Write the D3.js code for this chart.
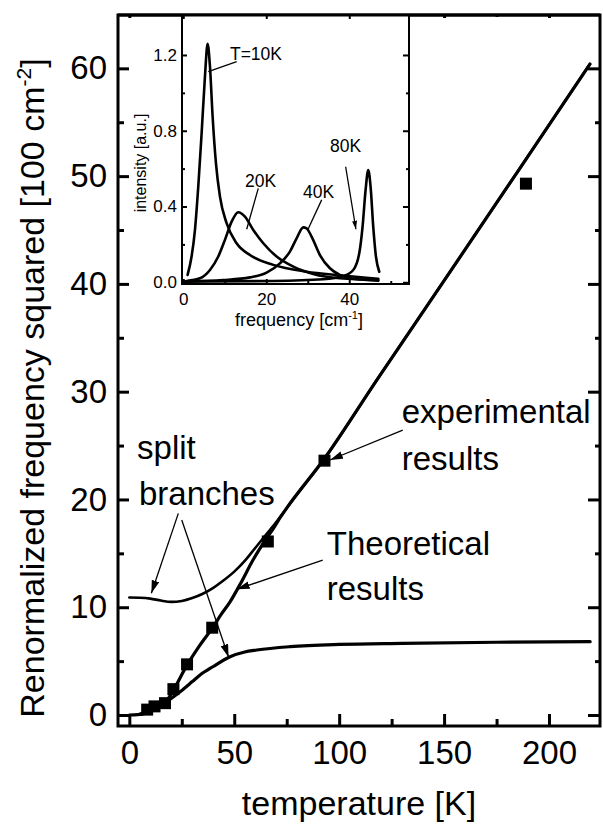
<!DOCTYPE html>
<html>
<head>
<meta charset="utf-8">
<script src="https://cdnjs.cloudflare.com/ajax/libs/d3/7.8.5/d3.min.js"></script>
<style>
  body { margin: 0; background: #fff; }
  svg { display: block; font-family: "Liberation Sans", Arial, Helvetica, sans-serif; }
  .axis path.domain { display: none; }
  .axis line { stroke: #000; stroke-width: 3; }
  .axis text { fill: #000; }
  .inset .axis line { stroke-width: 2; }
  .curve { fill: none; stroke: #000; stroke-linejoin: round; stroke-linecap: round; }
  .pointer { fill: none; stroke: #000; stroke-width: 1.3; }
</style>
</head>
<body>
<div id="chart"></div>
<script>
// main panel ticks
let xTicks = [0, 50, 100, 150, 200],
  xMinor = [25, 75, 125, 175],
  yTicks = [0, 10, 20, 30, 40, 50, 60],
  yMinor = [5, 15, 25, 35, 45, 55];

// inset ticks
let insetXTicks = [0, 20, 40],
  insetXMinor = [10, 30, 50],
  insetYTicks = [0, 0.4, 0.8, 1.2],
  insetYMinor = [0.2, 0.6, 1.0];

// experimental results: temperature [K], frequency squared [100 cm^-2]
let expT = [8.5, 12, 17, 21, 27.5, 39.5, 66, 93, 189],
  expV = [0.5, 0.8, 1.1, 2.4, 4.7, 8.1, 16.1, 23.6, 49.3];

// theoretical curves [T, value]
let lowerBranch = [
  [0, 0], [4, 0.03], [8, 0.16], [12, 0.5], [17.8, 1.24], [24.2, 2.16], [30, 3.1],
  [33.7, 3.71], [40, 4.5], [48, 5.41], [55, 5.85], [60.7, 6.03], [76.6, 6.34],
  [100, 6.55], [130, 6.65], [175, 6.75], [219.6, 6.8]
];
let upperBranch = [
  [0, 10.9], [5, 10.88], [10, 10.8], [15, 10.62], [20, 10.5], [25, 10.58], [30, 10.85],
  [35, 11.25], [40, 11.8], [45, 12.5], [50, 13.3], [55, 14.3], [60, 15.5], [65, 16.7],
  [70, 17.9], [75, 19.2], [93, 23.8], [118, 31.1], [150, 40.3], [185, 50.4], [219.5, 60.4]
];
let fitLine = [
  [5, 0.08], [8.3, 0.35], [12, 0.75], [17, 1.15], [21, 2.3], [27.4, 4.6], [33, 6.3],
  [39.3, 8.0], [44, 9.4], [48, 10.5], [53, 12.2], [59, 14.4], [64, 16.0], [68.6, 17.3],
  [72, 18.35], [75, 19.2], [93, 23.8], [118, 31.1], [150, 40.3], [185, 50.4], [219.5, 60.4]
];

// inset spectra [frequency cm^-1, intensity a.u.]
let spectrum10K = [
  [1.04, 0.039], [2.0, 0.136], [2.81, 0.276], [3.61, 0.505], [4.42, 0.787], [5.22, 1.086],
  [5.86, 1.259], [6.43, 1.139], [7.07, 0.875], [7.87, 0.629], [8.84, 0.452], [10.44, 0.312],
  [12.85, 0.206], [16.06, 0.144], [21.69, 0.092], [29.72, 0.056], [37.75, 0.037], [46.99, 0.019]
];
let spectrum20K = [
  [0.8, 0.007], [4.02, 0.021], [6.43, 0.065], [8.43, 0.136], [10.04, 0.224], [11.65, 0.32],
  [13.25, 0.37], [14.86, 0.347], [16.87, 0.276], [19.28, 0.206], [22.49, 0.136], [26.51, 0.083],
  [31.33, 0.044], [37.75, 0.021], [46.99, 0.012]
];
let spectrum40K = [
  [0.5, 0.005], [9.64, 0.012], [16.06, 0.026], [20.08, 0.051], [23.29, 0.1], [25.7, 0.162],
  [27.31, 0.232], [28.92, 0.29], [29.72, 0.285], [30.92, 0.241], [32.93, 0.144], [35.34, 0.074],
  [37.75, 0.039], [40.96, 0.019], [46.99, 0.009]
];
let spectrum80K = [
  [0.5, 0.0035], [21.69, 0.007], [33.73, 0.016], [38.55, 0.033], [40.96, 0.065], [42.41, 0.153],
  [43.21, 0.294], [43.94, 0.488], [44.58, 0.593], [45.14, 0.505], [45.78, 0.294], [46.43, 0.136],
  [47.23, 0.056]
];

// annotations in data units
let mainNotes = [
  {text: 'split', x: 3.7, y: 23.75},
  {text: 'branches', x: 4.6, y: 19.5},
  {text: 'experimental', x: 129.8, y: 27.06},
  {text: 'results', x: 129.8, y: 22.73},
  {text: 'Theoretical', x: 94.1, y: 14.85},
  {text: 'results', x: 94.1, y: 10.67}
];
let mainArrows = [
  [[23.35, 18.71], [10.5, 11.29]],
  [[24.97, 18.09], [47.3, 5.36]],
  [[92.16, 14.38], [51.18, 11.66]],
  [[130.3, 26.44], [95.64, 23.66]]
];
let insetNotes = [
  {text: 'T=10K', x: 11.25, y: 1.174},
  {text: '20K', x: 14.87, y: 0.503},
  {text: '40K', x: 28.84, y: 0.445},
  {text: '80K', x: 35.35, y: 0.688}
];
let insetPointers = [
  [[12.87, 1.165], [6.02, 1.112]],
  [[18.07, 0.496], [15.28, 0.28]],
  [[33.35, 0.435], [29.98, 0.276]]
];
let insetArrows = [
  [[39.13, 0.61], [41.61, 0.28]]
];

let width = 603, height = 824;
let box = {left: 118, right: 600, top: 15, bottom: 726};
let ibox = {left: 182, right: 409, top: 15, bottom: 284};

let svg = d3.select('#chart').append('svg')
  .attr('width', width).attr('height', height);

let defs = svg.append('defs');
function marker(id, w, h) {
  defs.append('marker')
    .attr('id', id)
    .attr('viewBox', '0 0 10 6')
    .attr('refX', 10).attr('refY', 3)
    .attr('markerUnits', 'userSpaceOnUse')
    .attr('markerWidth', w).attr('markerHeight', h)
    .attr('orient', 'auto')
    .append('path').attr('d', 'M0,0L10,3L0,6Z').attr('fill', '#000');
}
marker('head', 13, 8);
marker('head-small', 9, 5);

function ticks(g, axis, values, size, padding, fmt, fontSize) {
  g.attr('class', 'axis')
    .call(axis.tickValues(values).tickSize(size).tickPadding(padding).tickFormat(fmt))
    .call(s => s.selectAll('text').attr('font-size', fontSize).attr('font-family', null));
}

/*
 * main panel
 */

let x = d3.scaleLinear().domain([-5.4, 224.3]).range([box.left, box.right]);
let y = d3.scaleLinear().domain([-1.02, 64.95]).range([box.bottom, box.top]);
let none = () => '';

let main = svg.append('g');

main.append('g').attr('transform', `translate(${box.left},0)`)
  .call(ticks, d3.axisLeft(y), yTicks, -11, 11, d3.format('d'), 33);
main.append('g').attr('transform', `translate(${box.left},0)`)
  .call(ticks, d3.axisLeft(y), yMinor, -6, 0, none, 0);
main.append('g').attr('transform', `translate(${box.right},0)`)
  .call(ticks, d3.axisRight(y), yTicks, -12, 0, none, 0);
main.append('g').attr('transform', `translate(${box.right},0)`)
  .call(ticks, d3.axisRight(y), yMinor, -5, 0, none, 0);
main.append('g').attr('transform', `translate(0,${box.bottom})`)
  .call(ticks, d3.axisBottom(x), xTicks, -12, 15, d3.format('d'), 33);
main.append('g').attr('transform', `translate(0,${box.bottom})`)
  .call(ticks, d3.axisBottom(x), xMinor, -7, 0, none, 0);
main.append('g').attr('transform', `translate(0,${box.top})`)
  .call(ticks, d3.axisTop(x), xTicks, -3, 0, none, 0);
main.append('g').attr('transform', `translate(0,${box.top})`)
  .call(ticks, d3.axisTop(x), xMinor, -2, 0, none, 0);

let line = d3.line()
  .x(d => x(d[0]))
  .y(d => y(d[1]))
  .curve(d3.curveMonotoneX);

main.append('path').attr('class', 'curve').attr('stroke-width', 3.2).attr('d', line(lowerBranch));
main.append('path').attr('class', 'curve').attr('stroke-width', 2.6).attr('d', line(upperBranch));
main.append('path').attr('class', 'curve').attr('stroke-width', 3.2).attr('d', line(fitLine));

main.append('g').selectAll('rect')
  .data(expT.map((t, i) => [t, expV[i]]))
  .join('rect')
  .attr('x', d => x(d[0]) - 6)
  .attr('y', d => y(d[1]) - 6)
  .attr('width', 12).attr('height', 12)
  .attr('fill', '#000');

main.append('g').selectAll('line')
  .data(mainArrows)
  .join('line')
  .attr('class', 'pointer')
  .attr('x1', d => x(d[0][0])).attr('y1', d => y(d[0][1]))
  .attr('x2', d => x(d[1][0])).attr('y2', d => y(d[1][1]))
  .attr('marker-end', 'url(#head)');

main.append('g').selectAll('text')
  .data(mainNotes)
  .join('text')
  .attr('x', d => x(d.x)).attr('y', d => y(d.y))
  .attr('font-size', 33)
  .text(d => d.text);

main.append('rect')
  .attr('x', box.left).attr('y', box.top)
  .attr('width', box.right - box.left).attr('height', box.bottom - box.top)
  .attr('fill', 'none').attr('stroke', '#000').attr('stroke-width', 3);

main.append('text')
  .attr('x', (box.left + box.right) / 2).attr('y', 815)
  .attr('text-anchor', 'middle').attr('font-size', 34)
  .text('temperature [K]');

let ytitle = main.append('text')
  .attr('transform', 'translate(43.5,388) rotate(-90)')
  .attr('text-anchor', 'middle').attr('font-size', 34);
ytitle.append('tspan').text('Renormalized frequency squared [100 cm');
ytitle.append('tspan').attr('font-size', 21).attr('dy', -13).text('-2');
ytitle.append('tspan').attr('dy', 13).text(']');

/*
 * inset
 */

let ix = d3.scaleLinear().domain([-0.31, 54.4]).range([ibox.left, ibox.right]);
let iy = d3.scaleLinear().domain([-0.009, 1.411]).range([ibox.bottom, ibox.top]);

let inset = svg.append('g').attr('class', 'inset');

inset.append('rect')
  .attr('x', ibox.left).attr('y', ibox.top)
  .attr('width', ibox.right - ibox.left).attr('height', ibox.bottom - ibox.top)
  .attr('fill', '#fff');

inset.append('g').attr('transform', `translate(${ibox.left},0)`)
  .call(ticks, d3.axisLeft(iy), insetYTicks, -5, 5, d3.format('.1f'), 17);
inset.append('g').attr('transform', `translate(${ibox.left},0)`)
  .call(ticks, d3.axisLeft(iy), insetYMinor, -3, 0, none, 0);
inset.append('g').attr('transform', `translate(${ibox.right},0)`)
  .call(ticks, d3.axisRight(iy), insetYTicks, -6, 0, none, 0);
inset.append('g').attr('transform', `translate(${ibox.right},0)`)
  .call(ticks, d3.axisRight(iy), insetYMinor, -3, 0, none, 0);
inset.append('g').attr('transform', `translate(0,${ibox.bottom})`)
  .call(ticks, d3.axisBottom(ix), insetXTicks, -5, 9, d3.format('d'), 17);
inset.append('g').attr('transform', `translate(0,${ibox.bottom})`)
  .call(ticks, d3.axisBottom(ix), insetXMinor, -3, 0, none, 0);
inset.append('g').attr('transform', `translate(0,${ibox.top})`)
  .call(ticks, d3.axisTop(ix), insetXTicks, -4, 0, none, 0);

let iline = d3.line()
  .x(d => ix(d[0]))
  .y(d => iy(d[1]))
  .curve(d3.curveMonotoneX);

inset.append('g').selectAll('path')
  .data([spectrum80K, spectrum40K, spectrum20K, spectrum10K])
  .join('path')
  .attr('class', 'curve')
  .attr('stroke-width', 2.6)
  .attr('d', iline);

inset.append('g').selectAll('line')
  .data(insetPointers)
  .join('line')
  .attr('class', 'pointer')
  .attr('stroke-width', 1)
  .attr('x1', d => ix(d[0][0])).attr('y1', d => iy(d[0][1]))
  .attr('x2', d => ix(d[1][0])).attr('y2', d => iy(d[1][1]));

inset.append('g').selectAll('line')
  .data(insetArrows)
  .join('line')
  .attr('class', 'pointer')
  .attr('stroke-width', 1)
  .attr('x1', d => ix(d[0][0])).attr('y1', d => iy(d[0][1]))
  .attr('x2', d => ix(d[1][0])).attr('y2', d => iy(d[1][1]))
  .attr('marker-end', 'url(#head-small)');

inset.append('g').selectAll('text')
  .data(insetNotes)
  .join('text')
  .attr('x', d => ix(d.x)).attr('y', d => iy(d.y))
  .attr('font-size', 17.5)
  .text(d => d.text);

inset.append('rect')
  .attr('x', ibox.left).attr('y', ibox.top)
  .attr('width', ibox.right - ibox.left).attr('height', ibox.bottom - ibox.top)
  .attr('fill', 'none').attr('stroke', '#000').attr('stroke-width', 2);

let ixtitle = inset.append('text')
  .attr('x', 299).attr('y', 326)
  .attr('text-anchor', 'middle').attr('font-size', 18);
ixtitle.append('tspan').text('frequency [cm');
ixtitle.append('tspan').attr('font-size', 11).attr('dy', -7).text('-1');
ixtitle.append('tspan').attr('dy', 7).text(']');

inset.append('text')
  .attr('transform', 'translate(146,163) rotate(-90)')
  .attr('text-anchor', 'middle').attr('font-size', 16)
  .text('intensity [a.u.]');

// main frame top edge drawn again over the inset
svg.append('line')
  .attr('x1', box.left).attr('x2', box.right)
  .attr('y1', box.top).attr('y2', box.top)
  .attr('stroke', '#000').attr('stroke-width', 3);
</script>
</body>
</html>
